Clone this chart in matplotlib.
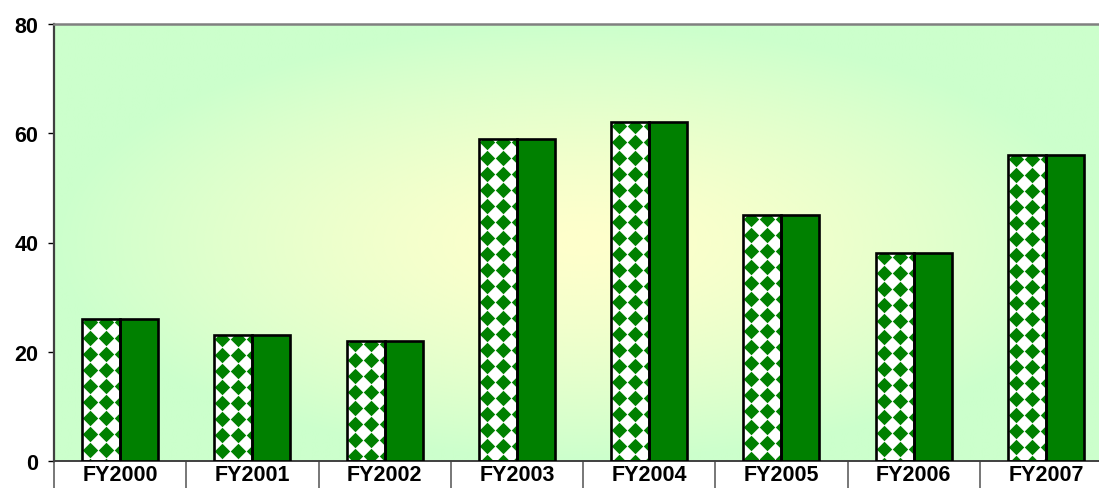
import numpy as np
import matplotlib
matplotlib.use('Agg')
import matplotlib.pyplot as plt
from matplotlib.transforms import IdentityTransform

years = ['FY2000', 'FY2001', 'FY2002', 'FY2003', 'FY2004', 'FY2005', 'FY2006', 'FY2007']
series_a = [26, 23, 22, 59, 62, 45, 38, 56]   # patterned bars
series_b = [26, 23, 22, 59, 62, 45, 38, 56]   # solid green bars
yticks = [0, 20, 40, 60, 80]

green = '#008000'

plt.rcParams['font.family'] = ['Liberation Sans', 'DejaVu Sans']
plt.rcParams['font.weight'] = 'bold'

fig = plt.figure(figsize=(10.99, 4.89), dpi=100)
ax = fig.add_axes([54 / 1099, 27 / 489, 1058 / 1099, 437 / 489])

# background: yellow in the middle fading to light green at the edges
yy, xx = np.mgrid[0:1:300j, 0:1:600j]
d = np.sqrt(((xx - 0.5) / 0.5) ** 2 + ((yy - 0.5) / 0.5) ** 2)
t = np.clip(d, 0, 1) ** 1.4
center = np.array([255, 255, 204]) / 255
edge = np.array([204, 255, 204]) / 255
img = center[None, None, :] * (1 - t[..., None]) + edge[None, None, :] * t[..., None]
ax.imshow(img, extent=[0, 1, 0, 1], transform=ax.transAxes, aspect='auto',
          origin='lower', zorder=0, interpolation='bilinear')

ax.set_xlim(-0.5, 7.5)
ax.set_ylim(0, 80)
ax.set_autoscale_on(False)

x = np.arange(len(years))
w = 0.287
left = ax.bar(x - w / 2, series_a, w, color='white', edgecolor='none', zorder=2)
ax.bar(x + w / 2, series_b, w, color=green, edgecolor='black', linewidth=1.9, zorder=3)

# diamond checker fill, anchored to each bar's top-left corner (pixels)
step = 16
for p in left.patches:
    bb = p.get_window_extent()
    nx = int(bb.width // step) + 2
    ny = int(bb.height // step) + 2
    xs, ys = [], []
    for j in range(ny):
        for i in range(nx):
            xs.append(bb.x0 + 8 + i * step)
            ys.append(bb.y1 - 3.5 - j * step)
    sc = ax.scatter(xs, ys, s=62, marker='D', color=green, linewidths=0,
                    transform=IdentityTransform(), zorder=2.5)
    sc.set_clip_path(p)
ax.bar(x - w / 2, series_a, w, facecolor='none', edgecolor='black', linewidth=1.9, zorder=3)

ax.set_yticks(yticks)
ax.tick_params(axis='y', length=4.3, width=1, pad=7, labelsize=15.5, color='black')
ax.set_xticks(x)
ax.set_xticklabels(years)
ax.tick_params(axis='x', which='major', length=0, pad=2.5, labelsize=15.5)
ax.set_xticks(np.arange(-0.5, 8, 1), minor=True)
ax.tick_params(axis='x', which='minor', length=22, width=1.2, color='#606060')

ax.spines['left'].set_color('#404040')
ax.spines['left'].set_linewidth(1.6)
ax.spines['bottom'].set_color('#404040')
ax.spines['bottom'].set_linewidth(1.4)
ax.spines['top'].set_color('#808080')
ax.spines['top'].set_linewidth(1.8)
ax.spines['right'].set_visible(False)

fig.savefig('out.png', dpi=100)
